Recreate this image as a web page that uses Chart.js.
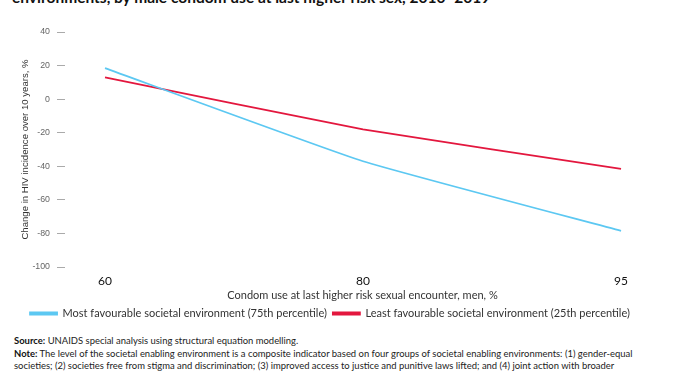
<!DOCTYPE html>
<html>
<head>
<meta charset="utf-8">
<script src="https://cdn.jsdelivr.net/npm/chart.js@4/dist/chart.umd.min.js"></script>
<style>
  html, body { margin: 0; padding: 0; background: #fff; width: 675px; height: 375px; overflow: hidden; position: relative; }
  #title { position: absolute; left: 12px; top: -10px; font-family: Lato, sans-serif; font-weight: 700; font-size: 15.5px; line-height: 15px; color: #111; white-space: nowrap; }
  #wrap { position: absolute; left: 0; top: 0; width: 675px; height: 329px; }
  #notes { position: absolute; left: 14px; top: 335px; width: 650px; font-family: Lato, sans-serif; font-size: 9.45px; line-height: 12.5px; color: #222; white-space: nowrap; }
  #notes b { font-weight: 700; color: #111; }
</style>
</head>
<body>
<div id="title">environments, by male condom use at last higher risk sex, 2010–2019</div>
<div id="wrap"><canvas id="c"></canvas></div>
<div id="notes">
  <div><b>Source:</b> UNAIDS special analysis using structural equation modelling.</div>
  <div><b>Note:</b> The level of the societal enabling environment is a composite indicator based on four groups of societal enabling environments: (1) gender-equal</div>
  <div>societies; (2) societies free from stigma and discrimination; (3) improved access to justice and punitive laws lifted; and (4) joint action with broader</div>
  <div>development agendas.</div>
</div>
<script>
// ---- Data ----
const categories = ["60", "80", "95"];
const mostFavourable = [18.5, -37, -78.5];
const leastFavourable = [13, -18, -41.5];
const seriesNames = [
  "Most favourable societal environment (75th percentile)",
  "Least favourable societal environment (25th percentile)"
];
const yTicks = [40, 20, 0, -20, -40, -60, -80, -100];

const BLUE = "#5cc8f2";
const RED = "#e3173e";

const toPoints = arr => arr.map((v, i) => ({ x: i, y: v }));

new Chart(document.getElementById("c"), {
  type: "line",
  data: {
    datasets: [
      { label: seriesNames[0], data: toPoints(mostFavourable), borderColor: BLUE, backgroundColor: BLUE, borderWidth: 1.8, pointRadius: 0, tension: 0.12 },
      { label: seriesNames[1], data: toPoints(leastFavourable), borderColor: RED, backgroundColor: RED, borderWidth: 1.8, pointRadius: 0, tension: 0.12 }
    ]
  },
  options: {
    responsive: true,
    maintainAspectRatio: false,
    animation: false,
    events: [],
    layout: { padding: { top: 32, right: 15, left: 0, bottom: 0 } },
    plugins: {
      tooltip: { enabled: false },
      legend: {
        position: "bottom",
        labels: {
          boxWidth: 27, boxHeight: 2, padding: 6,
          color: "#333",
          font: { family: "Lato", size: 11 }
        }
      }
    },
    scales: {
      x: {
        type: "linear",
        min: -0.155, max: 2.151,
        afterBuildTicks: s => { s.ticks = categories.map((c, i) => ({ value: i })); },
        afterFit: s => { s.height = 35; },
        grid: { display: false, drawTicks: false },
        border: { display: false },
        ticks: {
          padding: 7,
          color: "#111",
          font: { family: "Lato", size: 12 },
          callback: (v) => categories[v]
        },
        title: {
          display: true,
          text: "Condom use at last higher risk sexual encounter, men, %",
          color: "#333",
          font: { family: "Lato", size: 11 },
          padding: { top: 0, bottom: 0 }
        }
      },
      y: {
        min: -100, max: 40,
        afterBuildTicks: s => { s.ticks = yTicks.map(v => ({ value: v })); },
        afterFit: s => { s.width = 65; },
        grid: { drawOnChartArea: false, tickLength: 8, color: "#aaa", lineWidth: 1 },
        border: { display: false },
        ticks: {
          padding: 7,
          color: "#666",
          font: { family: "Liberation Sans", size: 8.8 }
        },
        title: {
          display: true,
          text: "Change in HIV incidence over 10 years, %",
          color: "#333",
          font: { family: "Liberation Sans", size: 9.6 },
          padding: { top: 20, bottom: 0 }
        }
      }
    }
  }
});
</script>
</body>
</html>
